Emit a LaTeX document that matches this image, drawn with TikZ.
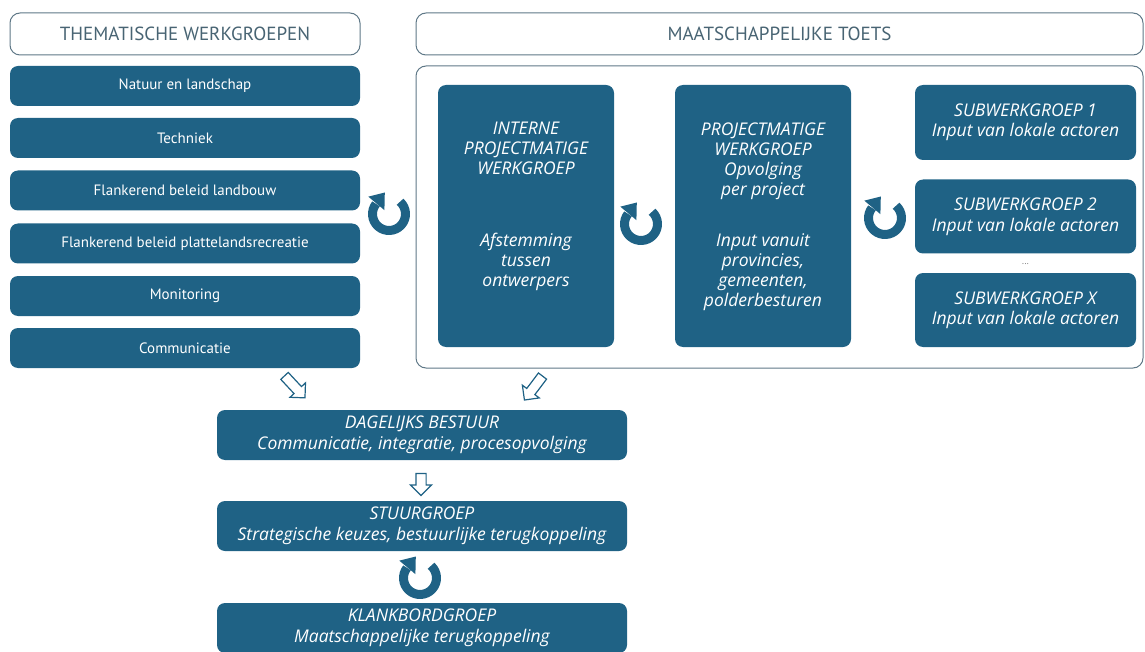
\documentclass[tikz,border=0pt]{standalone}
\usepackage{fontspec}
\setmainfont{Open Sans}
\newfontfamily\listfont{PT Sans}
\usetikzlibrary{shapes.arrows}
\definecolor{teal1}{RGB}{31,98,133}
\definecolor{hdr}{RGB}{95,120,135}
\definecolor{hdrtxt}{RGB}{72,100,115}
\begin{document}
\begin{tikzpicture}[x=1pt,y=1pt,
 box/.style={draw=none, fill=teal1, rounded corners=8pt, text=white, align=center, inner sep=0pt},
 listbox/.style={box, minimum width=350pt, minimum height=40pt, font=\listfont\fontsize{15}{18}\selectfont},
 hdrbox/.style={draw=hdr, line width=1pt, fill=white, rounded corners=10pt, text=hdrtxt, font=\listfont\fontsize{19}{22}\selectfont, minimum height=42pt},
 itbox/.style={box, font=\itshape\fontsize{17.5}{20.5}\selectfont},
 itxt/.style={text=white, align=center, inner sep=0pt, font=\itshape\fontsize{17.5}{20}\selectfont},
 hollow/.style={draw=teal1, fill=white, line width=1.2pt, single arrow, single arrow head extend=5.5pt, minimum height=26pt, inner xsep=0pt, inner ysep=4.5pt},
 cyc/.pic={
   \draw[teal1, line width=9pt] (48:16.5pt) arc[start angle=48, end angle=-218, radius=16.5pt];
   \fill[teal1] (140:27pt) -- (-4.2pt,21.5pt) -- (140:6pt) -- cycle;
 }
]
\useasboundingbox (0,0) rectangle (1145,-652);
% left column
\node[hdrbox, minimum width=350pt] (twg) at (185,-34) {THEMATISCHE WERKGROEPEN};
\node[listbox] (l1) at (185,-86) {Natuur en landschap};
\node[listbox] (l2) at (185,-138) {Techniek};
\node[listbox] (l3) at (185,-190.5) {Flankerend beleid landbouw};
\node[listbox] (l4) at (185,-243.5) {Flankerend beleid plattelandsrecreatie};
\node[listbox] (l5) at (185,-296) {Monitoring};
\node[listbox] (l6) at (185,-348) {Communicatie};
% right part
\node[hdrbox, minimum width=727pt] (mt) at (779.5,-34) {MAATSCHAPPELIJKE TOETS};
\node[draw=hdr, line width=1pt, rounded corners=10pt, minimum width=727pt, minimum height=302pt] (cont) at (779.5,-217) {};
\node[box, minimum width=176pt, minimum height=262pt] (ipw) at (526,-216) {};
\node[itxt] (ipwa) at (526,-148) {INTERNE\\PROJECTMATIGE\\WERKGROEP};
\node[itxt] (ipwb) at (526,-262) {Afstemming\\tussen\\ontwerpers};
\node[box, minimum width=176pt, minimum height=262pt] (pw) at (763,-216) {};
\node[itxt] (pwa) at (763,-161) {PROJECTMATIGE\\WERKGROEP\\Opvolging\\per project};
\node[itxt] (pwb) at (763,-272) {Input vanuit\\provincies,\\gemeenten,\\polderbesturen};
\node[itbox, minimum width=221pt, minimum height=75pt] (s1) at (1025.5,-122.5) {SUBWERKGROEP 1\\Input van lokale actoren};
\node[itbox, minimum width=221pt, minimum height=74pt] (s2) at (1025.5,-216.5) {SUBWERKGROEP 2\\Input van lokale actoren};
\node[text=gray, font=\fontsize{9}{10}\selectfont, inner sep=0pt] (dots) at (1025.5,-264) {...};
\node[itbox, minimum width=221pt, minimum height=74pt] (sx) at (1025.5,-310) {SUBWERKGROEP X\\Input van lokale actoren};
% cycle arrows
\pic at (389,-214) {cyc};
\pic at (641,-224) {cyc};
\pic at (885,-218) {cyc};
\pic at (420,-578) {cyc};
% bottom chain
\node[itbox, minimum width=410pt, minimum height=50pt] (db) at (422,-435) {DAGELIJKS BESTUUR\\Communicatie, integratie, procesopvolging};
\node[itbox, minimum width=410pt, minimum height=50pt] (sg) at (422,-526) {STUURGROEP\\Strategische keuzes, bestuurlijke terugkoppeling};
\node[itbox, minimum width=410pt, minimum height=50pt] (kb) at (422,-628) {KLANKBORDGROEP\\Maatschappelijke terugkoppeling};
\node[hollow, rotate=-47, minimum height=30pt] (a1) at (293,-385) {};
\node[hollow, rotate=-127, minimum height=30pt] (a2) at (535,-386) {};
\node[hollow, rotate=-90, minimum height=22pt] (a3) at (421,-482) {};
\end{tikzpicture}
\end{document}
